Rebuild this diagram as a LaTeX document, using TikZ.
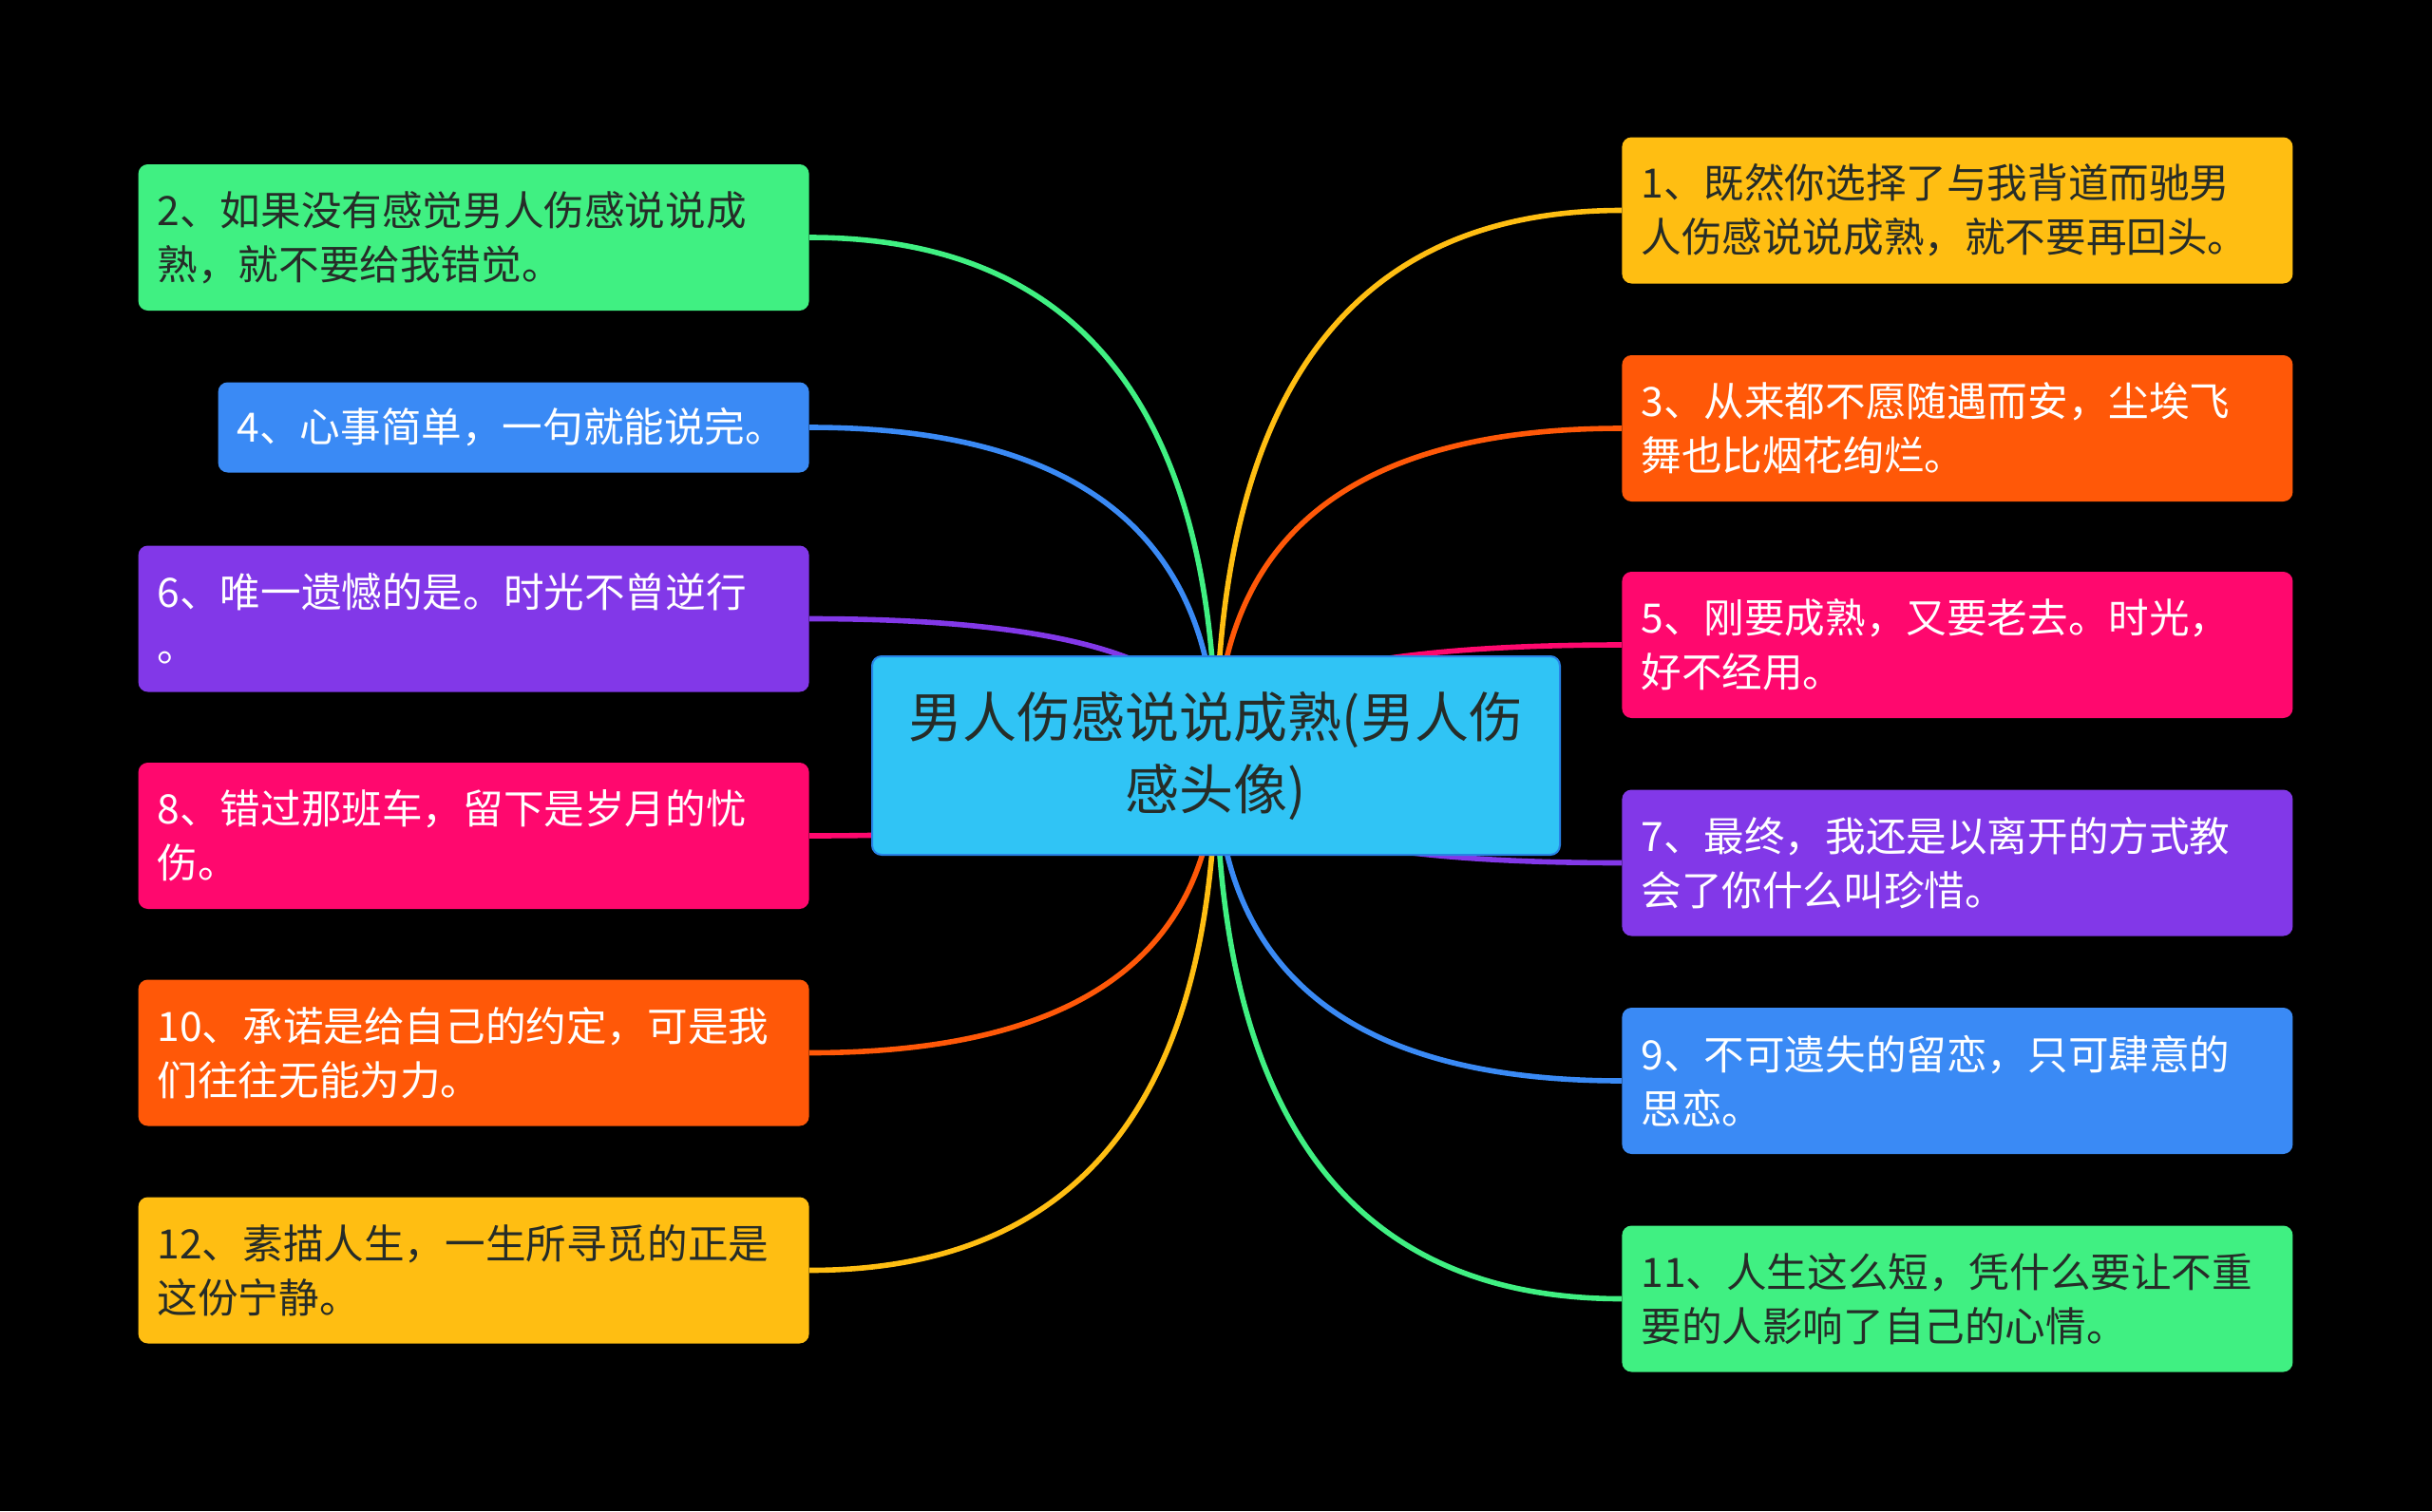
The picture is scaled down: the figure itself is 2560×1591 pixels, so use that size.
\documentclass[tikz,border=0pt]{standalone}
\usepackage{fontspec}
\setmainfont{Noto Sans CJK SC}
\usetikzlibrary{calc}
\definecolor{mmgreen}{RGB}{64,240,130}
\definecolor{mmblue}{RGB}{58,138,245}
\definecolor{mmpurple}{RGB}{130,56,232}
\definecolor{mmpink}{RGB}{255,8,110}
\definecolor{mmorange}{RGB}{255,88,8}
\definecolor{mmyellow}{RGB}{255,190,18}
\definecolor{mmcyan}{RGB}{48,196,245}
\definecolor{mmedge}{RGB}{40,130,230}
\definecolor{mmdark}{RGB}{38,44,40}

\begin{document}
\begin{tikzpicture}[x=0.5pt, y=-0.5pt,
  leaf/.style={rounded corners=5pt, inner xsep=10pt, inner ysep=0pt, text width=333pt,
    minimum height=77pt, align=left, font=\fontsize{21.3}{28.5}\selectfont},
  dark/.style={fill=#1, text=mmdark},
  light/.style={fill=#1, text=white},
  branch/.style={line width=2.8pt}]

  % Background
  \fill[black] (0,0) rectangle (2560,1591);

  % Left column
  \node[leaf, dark=mmgreen, anchor=east] (b2) at (852,250) {2、如果没有感觉男人伤感说说成\\熟，就不要给我错觉。};
  \node[leaf, light=mmblue, anchor=east, text width=291pt, minimum height=47.5pt] (b4) at (852,450) {4、心事简单，一句就能说完。};
  \node[leaf, light=mmpurple, anchor=east] (b6) at (852,651.5) {6、唯一遗憾的是。时光不曾逆行\\。};
  \node[leaf, light=mmpink, anchor=east] (b8) at (852,880) {8、错过那班车，留下是岁月的忧\\伤。};
  \node[leaf, light=mmorange, anchor=east] (b10) at (852,1108.5) {10、承诺是给自己的约定，可是我\\们往往无能为力。};
  \node[leaf, dark=mmyellow, anchor=east] (b12) at (852,1337.5) {12、素描人生，一生所寻觅的正是\\这份宁静。};

  % Right column
  \node[leaf, dark=mmyellow, anchor=west] (b1) at (1707,221.5) {1、既然你选择了与我背道而驰男\\人伤感说说成熟，就不要再回头。};
  \node[leaf, light=mmorange, anchor=west] (b3) at (1707,451) {3、从来都不愿随遇而安，尘埃飞\\舞也比烟花绚烂。};
  \node[leaf, light=mmpink, anchor=west] (b5) at (1707,679) {5、刚要成熟，又要老去。时光，\\好不经用。};
  \node[leaf, light=mmpurple, anchor=west] (b7) at (1707,908.5) {7、最终，我还是以离开的方式教\\会了你什么叫珍惜。};
  \node[leaf, light=mmblue, anchor=west] (b9) at (1707,1138) {9、不可遗失的留恋，只可肆意的\\思恋。};
  \node[leaf, dark=mmgreen, anchor=west] (b11) at (1707,1367.5) {11、人生这么短，凭什么要让不重\\要的人影响了自己的心情。};

  % Branches from the hub
  \coordinate (hub) at (1280,795.5);
  \foreach \n/\a/\c in {b2/east/mmgreen, b4/east/mmblue, b6/east/mmpurple,
      b8/east/mmpink, b10/east/mmorange, b12/east/mmyellow,
      b1/west/mmyellow, b3/west/mmorange, b5/west/mmpink,
      b7/west/mmpurple, b9/west/mmblue, b11/west/mmgreen}{
    \coordinate (k) at (hub |- \n.\a);
    \draw[branch, \c] (hub) .. controls ($(hub)!2/3!(k)$) and ($(\n.\a)!2/3!(k)$) .. (\n.\a);
  }

  % Root
  \node[fill=mmcyan, draw=mmedge, line width=1pt, rounded corners=5pt, text=mmdark,
    minimum width=362pt, minimum height=104.5pt, inner sep=0pt, align=center,
    font=\fontsize{28.5}{38}\selectfont] (root) at (hub) {男人伤感说说成熟(男人伤\\感头像)};
\end{tikzpicture}
\end{document}
